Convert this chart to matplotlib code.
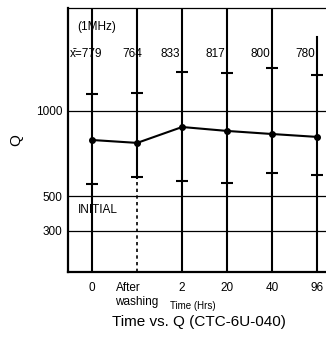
import matplotlib
matplotlib.use("Agg")
import matplotlib.pyplot as plt

plt.rcParams['font.family'] = ['Liberation Sans', 'DejaVu Sans']

times = ['0', 'After\nwashing', '2', '20', '40', '96']
q_mean = [830, 813, 906, 883, 865, 848]
q_max = [1099, 1105, 1228, 1222, 1251, 1211]
q_min = [573, 614, 591, 579, 637, 626]
mean_labels = ['x\u0304=779', '764', '833', '817', '800', '780']
y_ticks = [300, 500, 1000]

fig = plt.figure(figsize=(3.26, 3.40), dpi=100)
ax = fig.add_axes([68 / 326, 1 - 272 / 340, 264 / 326, 264 / 340])

x = list(range(len(times)))
ax.set_xlim(-0.536, 5.33)
ax.set_ylim(58, 1602)

# horizontal reference lines
for v in y_ticks:
    ax.axhline(v, color='black', lw=0.9, zorder=1)

# vertical lines at each time
for i in x:
    if i == 1:
        ax.axvline(i, ymin=(610 - 58) / 1544, color='black', lw=1.5, zorder=2)
        ax.axvline(i, ymax=(610 - 58) / 1544, color='black', lw=1.2, ls=(0, (2, 2)), zorder=2)
    elif i == 5:
        ax.axvline(i, ymax=(1433 - 58) / 1544, color='black', lw=1.5, zorder=2)
    else:
        ax.axvline(i, color='black', lw=1.5, zorder=2)

# min / max marks and mean line
ax.plot(x, q_max, ls='none', marker='_', ms=8, mew=1.5, color='black', zorder=3)
ax.plot(x, q_min, ls='none', marker='_', ms=8, mew=1.5, color='black', zorder=3)
ax.plot(x, q_mean, color='black', lw=1.5, marker='o', ms=4, zorder=4)

# mean annotations
ax.text(-0.49, 1333, mean_labels[0], fontsize=8.5, va='center', ha='left')
ax.text(0.9, 1333, mean_labels[1], fontsize=8.5, va='center', ha='center')
for i in x[2:]:
    ax.text(i - 0.04, 1333, mean_labels[i], fontsize=8.5, va='center', ha='right')

ax.text(-0.33, 1491, '(1MHz)', fontsize=8.5, va='center', ha='left')
ax.text(-0.31, 421, 'INITIAL', fontsize=8.5, va='center', ha='left')

ax.set_yticks(y_ticks)
ax.set_yticklabels([str(v) for v in y_ticks], fontsize=8.5)
ax.set_xticks(x)
ax.set_xticklabels(times, fontsize=8.5)
for lab in ax.get_xticklabels():
    lab.set_multialignment('left')
ax.tick_params(axis='both', length=0)
ax.tick_params(axis='x', pad=7)
ax.tick_params(axis='y', pad=4)

ax.set_ylabel('Q', fontsize=11, labelpad=9)
ax.set_xlabel('Time (Hrs)', fontsize=7)
ax.xaxis.set_label_coords(0.473, -0.11)

for side in ['bottom', 'left']:
    ax.spines[side].set_linewidth(1.6)
ax.spines['top'].set_linewidth(0.9)
ax.spines['right'].set_visible(False)

fig.text(199 / 326, 1 - 322 / 340, 'Time vs. Q (CTC-6U-040)', fontsize=11,
         ha='center', va='center')

fig.savefig('out.png', dpi=100)
